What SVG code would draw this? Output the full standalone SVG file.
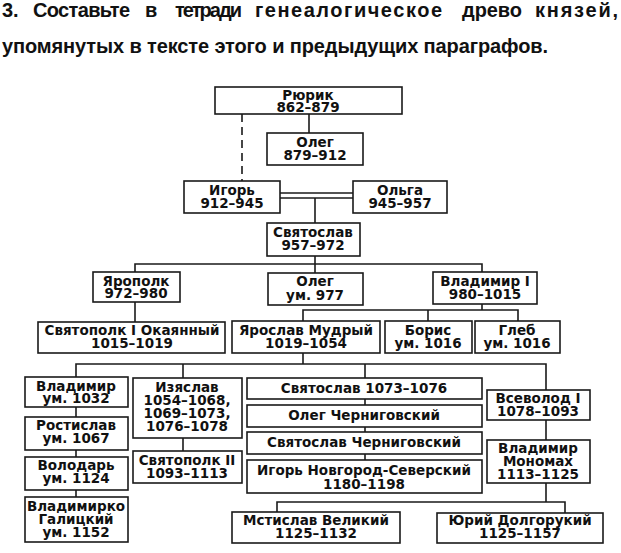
<svg xmlns="http://www.w3.org/2000/svg" width="621" height="553" viewBox="0 0 621 553">
<style>
  .title { font-family: "Liberation Sans", Arial, sans-serif; font-weight: bold; font-size: 20px; fill: #111; }
  .box { fill: #fff; stroke: #1a1a1a; stroke-width: 1.6; }
  .t { font-family: "DejaVu Sans", "Liberation Sans", sans-serif; font-weight: bold; font-size: 13.5px; fill: #111; text-anchor: middle; }
  .ln { fill: none; stroke: #1a1a1a; stroke-width: 1.6; }
  .dash { stroke-dasharray: 8 5; }
</style>
<rect width="621" height="553" fill="#fff"/>
<g id="title">
  <text class="title" x="2" y="17">3.</text>
  <text class="title" x="33" y="17" textLength="97" lengthAdjust="spacing">Составьте</text>
  <text class="title" x="145" y="17">в</text>
  <text class="title" x="175" y="17" textLength="67" lengthAdjust="spacing">тетради</text>
  <text class="title" x="255" y="17" textLength="187" lengthAdjust="spacing">генеалогическое</text>
  <text class="title" x="462" y="17" textLength="60" lengthAdjust="spacing">древо</text>
  <text class="title" x="535" y="17" textLength="83" lengthAdjust="spacing">князей,</text>
  <text class="title" x="2" y="53" textLength="546" lengthAdjust="spacing">упомянутых в тексте этого и предыдущих параграфов.</text>
</g>
<g id="connectors">
  <line class="ln" x1="309" y1="114" x2="309" y2="133"/>
  <line class="ln dash" x1="242" y1="114" x2="242" y2="181"/>
  <line class="ln" x1="280" y1="193" x2="353" y2="193"/>
  <line class="ln" x1="280" y1="198" x2="353" y2="198"/>
  <line class="ln" x1="315" y1="198" x2="315" y2="223"/>
  <line class="ln" x1="315" y1="256" x2="315" y2="264"/>
  <polyline class="ln" points="135,272 135,264 482,264 482,272"/>
  <line class="ln" x1="315" y1="264" x2="315" y2="273"/>
  <line class="ln" x1="135" y1="302" x2="135" y2="322"/>
  <line class="ln" x1="482" y1="304" x2="482" y2="310"/>
  <polyline class="ln" points="303,321 303,310 518,310 518,321"/>
  <line class="ln" x1="428" y1="310" x2="428" y2="321"/>
  <line class="ln" x1="303" y1="353" x2="303" y2="364"/>
  <polyline class="ln" points="76,377 76,364 546,364 546,390"/>
  <line class="ln" x1="183" y1="364" x2="183" y2="378"/>
  <line class="ln" x1="365" y1="364" x2="365" y2="378"/>
  <line class="ln" x1="76" y1="407" x2="76" y2="417"/>
  <line class="ln" x1="76" y1="450" x2="76" y2="457"/>
  <line class="ln" x1="76" y1="490" x2="76" y2="497"/>
  <line class="ln" x1="183" y1="438" x2="183" y2="451"/>
  <line class="ln" x1="365" y1="399" x2="365" y2="405"/>
  <line class="ln" x1="365" y1="427" x2="365" y2="432"/>
  <line class="ln" x1="365" y1="454" x2="365" y2="460"/>
  <line class="ln" x1="546" y1="420" x2="546" y2="440"/>
  <line class="ln" x1="546" y1="483" x2="546" y2="502"/>
  <polyline class="ln" points="277,512 277,502 565,502 565,513"/>
</g>
<g id="rurik"><rect class="box" x="215" y="87" width="187" height="27"/><text class="t" x="308" y="100">Рюрик<tspan x="308" dy="12">862–879</tspan></text></g>
<g id="oleg1"><rect class="box" x="267" y="133" width="96" height="32"/><text class="t" x="315" y="147">Олег<tspan x="315" dy="13">879–912</tspan></text></g>
<g id="igor"><rect class="box" x="184" y="181" width="96" height="32"/><text class="t" x="232" y="195">Игорь<tspan x="232" dy="13">912–945</tspan></text></g>
<g id="olga"><rect class="box" x="353" y="181" width="94" height="32"/><text class="t" x="400" y="195">Ольга<tspan x="400" dy="13">945–957</tspan></text></g>
<g id="svyatoslav1"><rect class="box" x="267" y="223" width="93" height="33"/><text class="t" x="313" y="237">Святослав<tspan x="313" dy="13">957–972</tspan></text></g>
<g id="yaropolk"><rect class="box" x="93" y="272" width="87" height="30"/><text class="t" x="136" y="286">Ярополк<tspan x="136" dy="12">972–980</tspan></text></g>
<g id="oleg2"><rect class="box" x="268" y="273" width="95" height="32"/><text class="t" x="315" y="286">Олег<tspan x="315" dy="14">ум. 977</tspan></text></g>
<g id="vladimir1"><rect class="box" x="433" y="272" width="104" height="32"/><text class="t" x="485" y="286">Владимир I<tspan x="485" dy="13">980–1015</tspan></text></g>
<g id="svyatopolk1"><rect class="box" x="38" y="322" width="187" height="31"/><text class="t" x="132" y="335">Святополк I Окаянный<tspan x="132" dy="13">1015–1019</tspan></text></g>
<g id="yaroslav"><rect class="box" x="232" y="321" width="148" height="32"/><text class="t" x="306" y="335">Ярослав Мудрый<tspan x="306" dy="13">1019–1054</tspan></text></g>
<g id="boris"><rect class="box" x="385" y="321" width="87" height="32"/><text class="t" x="428" y="335">Борис<tspan x="428" dy="13">ум. 1016</tspan></text></g>
<g id="gleb"><rect class="box" x="475" y="321" width="85" height="32"/><text class="t" x="517" y="335">Глеб<tspan x="517" dy="13">ум. 1016</tspan></text></g>
<g id="vladimir1032"><rect class="box" x="25" y="377" width="103" height="30"/><text class="t" x="76" y="391">Владимир<tspan x="76" dy="12">ум. 1032</tspan></text></g>
<g id="rostislav"><rect class="box" x="25" y="417" width="103" height="33"/><text class="t" x="76" y="430">Ростислав<tspan x="76" dy="13">ум. 1067</tspan></text></g>
<g id="volodar"><rect class="box" x="25" y="457" width="103" height="33"/><text class="t" x="76" y="470">Володарь<tspan x="76" dy="13">ум. 1124</tspan></text></g>
<g id="vladimirko"><rect class="box" x="25" y="497" width="103" height="45"/><text class="t" x="76" y="511">Владимирко<tspan x="76" dy="13">Галицкий</tspan><tspan x="76" dy="13">ум. 1152</tspan></text></g>
<g id="izyaslav"><rect class="box" x="133" y="378" width="109" height="60"/><text class="t" x="187" y="392">Изяслав<tspan x="187" dy="13">1054–1068,</tspan><tspan x="187" dy="13">1069–1073,</tspan><tspan x="187" dy="13">1076–1078</tspan></text></g>
<g id="svyatopolk2"><rect class="box" x="133" y="451" width="109" height="32"/><text class="t" x="187" y="465">Святополк II<tspan x="187" dy="13">1093–1113</tspan></text></g>
<g id="svyatoslav2"><rect class="box" x="247" y="378" width="235" height="21"/><text class="t" x="364" y="393">Святослав 1073–1076</text></g>
<g id="oleg-chern"><rect class="box" x="247" y="405" width="235" height="22"/><text class="t" x="364" y="420">Олег Черниговский</text></g>
<g id="svyatoslav-chern"><rect class="box" x="247" y="432" width="235" height="22"/><text class="t" x="364" y="447">Святослав Черниговский</text></g>
<g id="igor-ns"><rect class="box" x="247" y="460" width="235" height="33"/><text class="t" x="364" y="475">Игорь Новгород-Северский<tspan x="364" dy="14">1180–1198</tspan></text></g>
<g id="vsevolod"><rect class="box" x="487" y="390" width="103" height="30"/><text class="t" x="538" y="403">Всеволод I<tspan x="538" dy="13">1078–1093</tspan></text></g>
<g id="monomakh"><rect class="box" x="487" y="440" width="103" height="43"/><text class="t" x="538" y="453">Владимир<tspan x="538" dy="13">Мономах</tspan><tspan x="538" dy="13">1113–1125</tspan></text></g>
<g id="mstislav"><rect class="box" x="232" y="512" width="168" height="31"/><text class="t" x="316" y="525">Мстислав Великий<tspan x="316" dy="13">1125–1132</tspan></text></g>
<g id="yuri"><rect class="box" x="437" y="513" width="166" height="30"/><text class="t" x="520" y="525">Юрий Долгорукий<tspan x="520" dy="13">1125–1157</tspan></text></g>
</svg>
